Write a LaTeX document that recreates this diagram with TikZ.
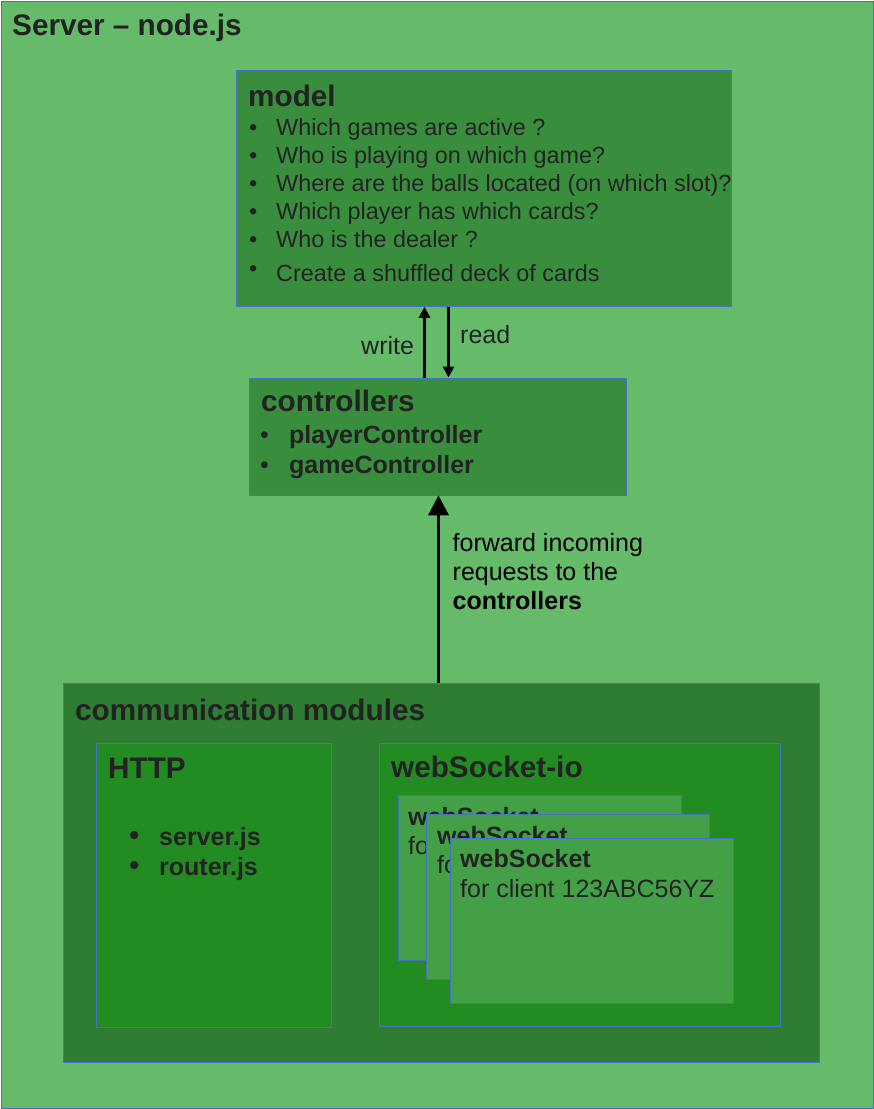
\documentclass[tikz,border=0pt]{standalone}
\usepackage{fontspec}
\setmainfont{Liberation Sans}
\usetikzlibrary{arrows.meta}

\definecolor{outergreen}{HTML}{66BB6A}
\definecolor{modgreen}{HTML}{388E3C}
\definecolor{commgreen}{HTML}{2E7D32}
\definecolor{partgreen}{HTML}{228B22}
\definecolor{cardgreen}{HTML}{43A047}
\definecolor{edgeblue}{HTML}{4472C4}
\definecolor{ink}{HTML}{222222}

\def\headfont{\fontsize{29.7}{35}\selectfont\bfseries}
\def\bodyfont{\fontsize{23.4}{28}\selectfont}
\def\largefont{\fontsize{25}{30}\selectfont}

\tikzset{
  box/.style={draw=edgeblue, line width=0.8pt, anchor=north west, inner sep=0pt},
  txt/.style={anchor=base west, inner sep=0pt, text=ink},
  arr/.style={line width=3pt, -{Triangle[length=11pt,width=11pt]}}
}

\begin{document}
\begin{tikzpicture}[x=1pt,y=-1pt]
\useasboundingbox (0,0) rectangle (874,1109);

% outer frame
\node [box, fill=outergreen, minimum width=872, minimum height=1107] (server) at (1,1) {};
\node [txt, font=\headfont] (serverT) at (12,35) {Server -- node.js};

% model
\node [box, fill=modgreen, minimum width=495, minimum height=236] (model) at (236,70) {};
\node [txt, font=\headfont] (modelT) at (248,106) {model};
\node [txt, font=\bodyfont] (mb1) at (249,135) {•};
\node [txt, font=\bodyfont] (m1) at (276,135) {Which games are active ?};
\node [txt, font=\bodyfont] (mb2) at (249,163) {•};
\node [txt, font=\bodyfont] (m2) at (276,163) {Who is playing on which game?};
\node [txt, font=\bodyfont] (mb3) at (249,191) {•};
\node [txt, font=\bodyfont] (m3) at (276,191) {Where are the balls located (on which slot)?};
\node [txt, font=\bodyfont] (mb4) at (249,219) {•};
\node [txt, font=\bodyfont] (m4) at (276,219) {Which player has which cards?};
\node [txt, font=\bodyfont] (mb5) at (249,247) {•};
\node [txt, font=\bodyfont] (m5) at (276,247) {Who is the dealer ?};
\node [txt, font=\bodyfont] (mb6) at (249,276) {•};
\node [txt, font=\bodyfont] (m6) at (276,281) {Create a shuffled deck of cards};

% controllers
\node [box, fill=modgreen, minimum width=377, minimum height=117] (ctrl) at (248.5,377.5) {};
\node [txt, font=\headfont] (ctrlT) at (261,411) {controllers};
\node [txt, font=\largefont] (cb1) at (260,443) {•};
\node [txt, font=\largefont\bfseries] (c1) at (289,443) {playerController};
\node [txt, font=\largefont] (cb2) at (260,473) {•};
\node [txt, font=\largefont\bfseries] (c2) at (289,473) {gameController};

% write / read
\coordinate (wr) at (424.5,0);
\coordinate (rd) at (448.5,0);
\draw [arr] (ctrl.north -| wr) -- (model.south -| wr);
\draw [arr] (model.south -| rd) -- (ctrl.north -| rd);
\node [txt, font=\largefont] (writeT) at (361,354) {write};
\node [txt, font=\largefont] (readT) at (460,343) {read};

% communication modules
\node [box, fill=commgreen, minimum width=756, minimum height=379] (comm) at (62.5,682.5) {};
\node [txt, font=\headfont] (commT) at (75,720) {communication modules};

% forward arrow
\coordinate (fw) at (438.5,0);
\draw [line width=3.5pt, -{Triangle[length=20pt,width=20pt]}] (comm.north -| fw) -- (ctrl.south -| fw);
\node [txt, font=\largefont, text=black] (fwd1) at (452.5,551) {forward incoming};
\node [txt, font=\largefont, text=black] (fwd2) at (452.5,580) {requests to the};
\node [txt, font=\largefont\bfseries, text=black] (fwd3) at (452.5,609) {controllers};

% HTTP
\node [box, fill=partgreen, minimum width=235.5, minimum height=284] (http) at (95.5,742.5) {};
\node [txt, font=\headfont] (httpT) at (108,778) {HTTP};
\node [txt, font=\fontsize{30}{30}\selectfont] (hb1) at (129,845) {•};
\node [txt, font=\largefont\bfseries] (h1) at (159,845) {server.js};
\node [txt, font=\fontsize{30}{30}\selectfont] (hb2) at (129,875) {•};
\node [txt, font=\largefont\bfseries] (h2) at (159,875) {router.js};

% webSocket-io
\node [box, fill=partgreen, minimum width=401, minimum height=283.5] (wsio) at (378.5,742.5) {};
\node [txt, font=\headfont] (wsioT) at (391,777) {webSocket-io};

\node [box, fill=cardgreen, minimum width=283, minimum height=165] (card1) at (397.5,794.5) {};
\node [txt, font=\largefont\bfseries] (card1A) at (408,825) {webSocket};
\node [txt, font=\largefont] (card1B) at (408,854) {for client 123ABC56YZ};

\node [box, fill=cardgreen, minimum width=283, minimum height=165] (card2) at (425.5,813.5) {};
\node [txt, font=\largefont\bfseries] (card2A) at (437,844) {webSocket};
\node [txt, font=\largefont] (card2B) at (437,873) {for client 123ABC56YZ};

\node [box, fill=cardgreen, minimum width=283, minimum height=165] (card3) at (449.5,837.5) {};
\node [txt, font=\largefont\bfseries] (card3A) at (460,867) {webSocket};
\node [txt, font=\largefont] (card3B) at (460,897) {for client 123ABC56YZ};
\end{tikzpicture}
\end{document}
